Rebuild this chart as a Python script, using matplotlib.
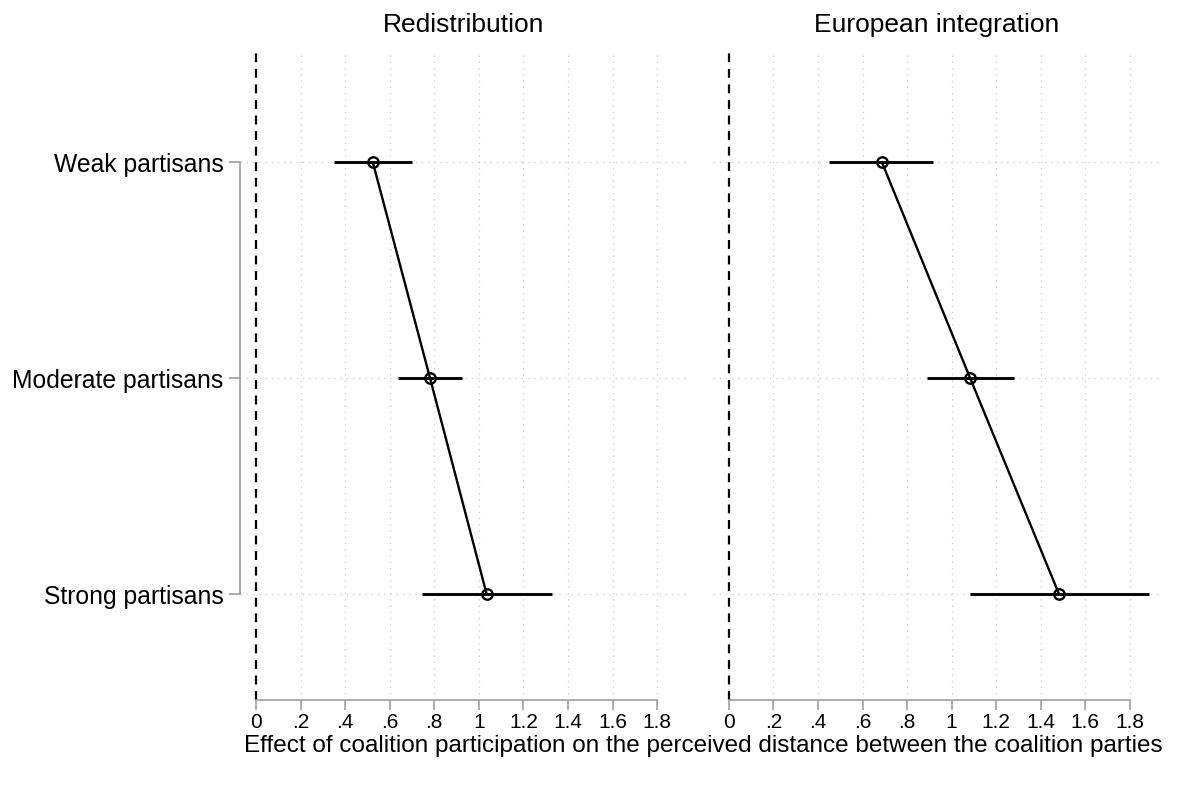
import numpy as np
import matplotlib
matplotlib.use("Agg")
import matplotlib.pyplot as plt

# coefficient estimates with 95% intervals, by partisan strength
groups = ["Weak partisans", "Moderate partisans", "Strong partisans"]
panels = ["Redistribution", "European integration"]
est = {
    "Redistribution": [0.524, 0.781, 1.035],
    "European integration": [0.687, 1.083, 1.482],
}
lo = {
    "Redistribution": [0.349, 0.636, 0.744],
    "European integration": [0.451, 0.889, 1.083],
}
hi = {
    "Redistribution": [0.702, 0.925, 1.330],
    "European integration": [0.917, 1.280, 1.885],
}
xticks = [0, 0.2, 0.4, 0.6, 0.8, 1.0, 1.2, 1.4, 1.6, 1.8]
xticklabels = ["0", ".2", ".4", ".6", ".8", "1", "1.2", "1.4", "1.6", "1.8"]

plt.rcParams.update({"font.family": ["Liberation Sans", "DejaVu Sans"], "font.size": 17.5})
fig = plt.figure(figsize=(12, 7.87), dpi=100)
pos = [(0.200, 0.1105, 0.3725, 0.826), (0.594, 0.1105, 0.3725, 0.826)]
ypos = np.arange(1, len(groups) + 1)

for i, name in enumerate(panels):
    ax = fig.add_axes(pos[i])
    ax.set_xlim(-0.072, 1.934)
    ax.set_ylim(3.49, 0.48)

    # light dotted grid
    for x in xticks[1:]:
        ax.axvline(x, color="#cccccc", lw=0.9, ls=(0, (1, 4)), zorder=0)
    for y in ypos:
        ax.axhline(y, color="#cccccc", lw=0.9, ls=(0, (1, 4)), zorder=0)
    ax.axvline(0, color="black", lw=1.6, ls=(0, (4, 3)), zorder=1)

    e = np.array(est[name])
    ax.hlines(ypos, lo[name], hi[name], color="black", lw=2.1, zorder=2)
    ax.plot(e, ypos, color="black", lw=1.7, marker="o", ms=7.5,
            mfc="none", mew=1.7, zorder=3)

    ax.set_title(name, fontsize=19, pad=13)
    for s in ("top", "right"):
        ax.spines[s].set_visible(False)
    ax.spines["bottom"].set_bounds(0, 1.8)
    ax.spines["bottom"].set_color("#a0a0a0")
    ax.spines["bottom"].set_linewidth(1.2)
    ax.set_xticks(xticks)
    ax.set_xticklabels(xticklabels)
    ax.tick_params(axis="x", length=7, width=1.2, color="#a0a0a0", labelsize=15, pad=2)

    if i == 0:
        ax.spines["left"].set_bounds(1, 3)
        ax.spines["left"].set_color("#a0a0a0")
        ax.spines["left"].set_linewidth(1.2)
        ax.set_yticks(ypos)
        ax.set_yticklabels(groups, fontsize=17.8)
        ax.tick_params(axis="y", length=8, width=1.2, color="#a0a0a0", pad=4)
    else:
        ax.spines["left"].set_visible(False)
        ax.set_yticks([])

fig.text(0.586, 0.052, "Effect of coalition participation on the perceived distance between the coalition parties",
         ha="center", va="center", fontsize=17.5)

fig.savefig("out.png", dpi=100)
